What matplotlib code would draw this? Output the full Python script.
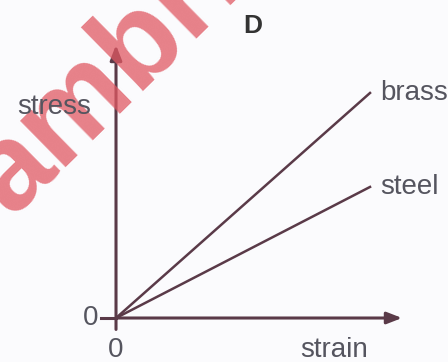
import matplotlib.pyplot as plt

# data (arbitrary units)
strain = [0, 10]
brass = [0, 8.86]
steel = [0, 5.16]
x_end = 11.26
y_end = 10.75

line_col = '#5a3a48'
text_col = '#55555f'

fig = plt.figure(figsize=(4.48, 3.62), dpi=100)
fig.patch.set_facecolor('#fbfbfd')
ax = fig.add_axes([0, 0, 1, 1])
ax.set_xlim(-4.567, 13.07)
ax.set_ylim(-1.732, 12.52)
ax.axis('off')

# axes with arrows
ax.annotate('', xy=(x_end, 0), xytext=(0, 0),
            arrowprops=dict(arrowstyle='-|>,head_length=0.9,head_width=0.35',
                            color=line_col, lw=2.2, shrinkA=0, shrinkB=0))
ax.annotate('', xy=(0, y_end), xytext=(0, -0.45),
            arrowprops=dict(arrowstyle='-|>,head_length=0.9,head_width=0.35',
                            color=line_col, lw=2.2, shrinkA=0, shrinkB=0))
ax.plot([-0.6, 0], [0, 0], color=line_col, lw=2.2)

ax.plot(strain, brass, color=line_col, lw=1.8)
ax.plot(strain, steel, color=line_col, lw=1.8)

ax.text(10.4, brass[1], 'brass', fontsize=20, color=text_col,
        family='Liberation Sans', va='center', ha='left')
ax.text(10.4, steel[1], 'steel', fontsize=20, color=text_col,
        family='Liberation Sans', va='center', ha='left')
ax.text(-1.0, 8.3, 'stress', fontsize=20, color=text_col,
        family='Liberation Sans', va='center', ha='right', zorder=5)
ax.text(9.9, -1.25, 'strain', fontsize=20, color=text_col,
        family='Liberation Sans', va='center', ha='right')
ax.text(-0.7, 0, '0', fontsize=20, color=text_col,
        family='Liberation Sans', va='center', ha='right')
ax.text(0, -1.25, '0', fontsize=20, color=text_col,
        family='Liberation Sans', va='center', ha='center')
ax.text(5.4, 11.5, 'D', fontsize=19, color='#333333', fontweight='bold',
        family='Liberation Sans', va='center', ha='center')

# watermark
ax.text(-4.14, 3.95, 'ambridge', fontsize=88, color='#e05862', alpha=0.75,
        fontweight='bold', family='Liberation Sans', rotation=44.5,
        rotation_mode='anchor', ha='left', va='baseline', zorder=4)

plt.savefig('out.png', dpi=100)
